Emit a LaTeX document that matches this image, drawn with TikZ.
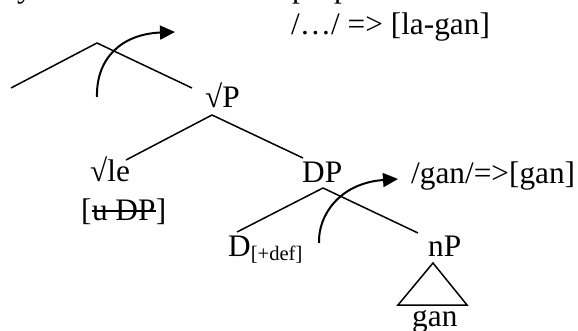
\documentclass[tikz,border=0pt]{standalone}
\usepackage{fontspec}
\setmainfont{Liberation Serif}
\usetikzlibrary{arrows.meta}
\begin{document}
\begin{tikzpicture}[x=1pt,y=-1pt,
  lbl/.style={anchor=base west, inner sep=0pt, font=\fontsize{31.3}{36}\selectfont},
  branch/.style={line width=1.5pt, line join=miter},
  strikeline/.style={line width=1.5pt},
  movearrow/.style={line width=2pt, -{Triangle[length=15pt,width=14pt]}}]
\useasboundingbox (0,0) rectangle (578,331);

% text lines cut at the top edge
\node[lbl] (fragy) at (17,-2) {y};
\node[lbl] (fragpa) at (292,-2) {p};
\node[lbl] (fragpb) at (334,-2) {p};

% labels
\node[lbl] (pf) at (291,35) {/…/ => [la-gan]};
\node[lbl] (rootP) at (205,108) {√P};
\node[lbl] (rootle) at (90,182) {√le};
\node[lbl] (featL) at (81,220) {[};
\node[lbl] (struck) at (featL.base east) {u DP};
\node[lbl] (featR) at (struck.base east) {]};
\draw[strikeline] ([yshift=9pt]struck.base west) -- ([yshift=9pt]struck.base east);
\node[lbl] (dp) at (302,183) {DP};
\node[lbl] (ganrule) at (411,184) {/gan/=>[gan]};
\node[lbl] (d) at (228,256) {D{\fontsize{20.6}{24}\selectfont\raisebox{-4pt}{[+def]}}};
\node[lbl] (np) at (428,256) {nP};
\node[lbl] (gan) at (412,326) {gan};

% tree skeleton
\coordinate (topL) at (11,88);
\coordinate (topA) at (97,43);
\coordinate (topR) at (192,88);
\coordinate (rA) at (212,115);
\coordinate (rL) at (126,160);
\coordinate (rR) at (303,158);
\coordinate (dA) at (323,188);
\coordinate (dL) at (237,232);
\coordinate (dR) at (418,233);
\coordinate (tA) at (433,263);
\coordinate (tL) at (398,305);
\coordinate (tR) at (467,305);

\draw[branch] (topL) -- (topA) -- (topR);
\draw[branch] (rL) -- (rA) -- (rR);
\draw[branch] (dL) -- (dA) -- (dR);
\draw[branch] (tA) -- (tL) -- (tR) -- cycle;

% movement arrows
\coordinate (m1s) at (97,97);
\coordinate (m1e) at (175,32);
\draw[movearrow] (m1s) .. controls (96,58) and (122,34) .. (m1e);
\coordinate (m2s) at (319,243);
\coordinate (m2e) at (398,179);
\draw[movearrow] (m2s) .. controls (318,215) and (340,183) .. (m2e);
\end{tikzpicture}
\end{document}
